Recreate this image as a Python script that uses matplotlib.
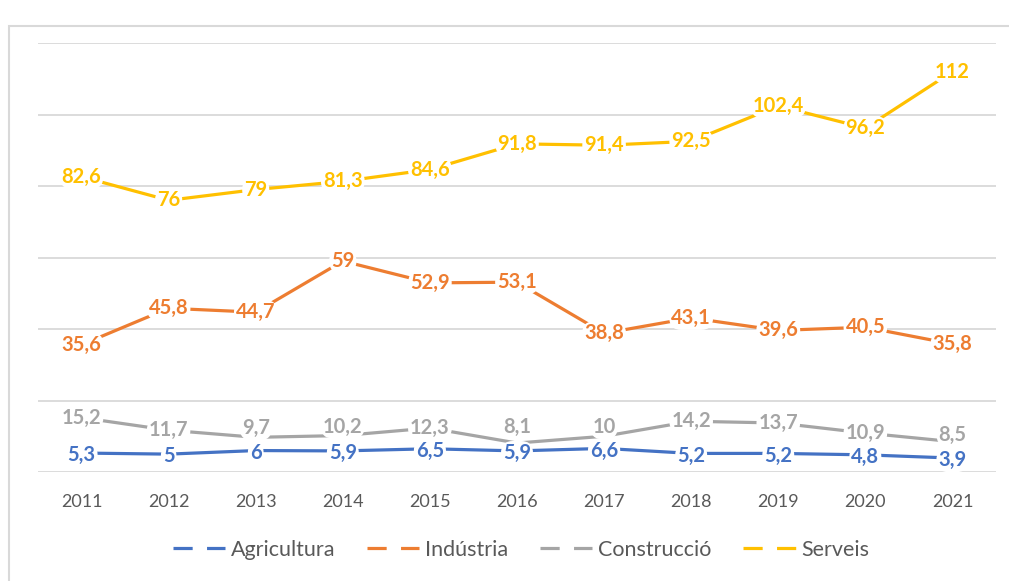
import matplotlib
matplotlib.use("Agg")
import matplotlib.pyplot as plt
from matplotlib.lines import Line2D
from matplotlib.patches import Rectangle

plt.rcParams['font.family'] = ['Lato', 'DejaVu Sans']

years = ['2011', '2012', '2013', '2014', '2015', '2016', '2017', '2018', '2019', '2020', '2021']
agricultura = [5.3, 5, 6, 5.9, 6.5, 5.9, 6.6, 5.2, 5.2, 4.8, 3.9]
industria = [35.6, 45.8, 44.7, 59, 52.9, 53.1, 38.8, 43.1, 39.6, 40.5, 35.8]
construccio = [15.2, 11.7, 9.7, 10.2, 12.3, 8.1, 10, 14.2, 13.7, 10.9, 8.5]
serveis = [82.6, 76, 79, 81.3, 84.6, 91.8, 91.4, 92.5, 102.4, 96.2, 112]

series_names = ['Agricultura', 'Indústria', 'Construcció', 'Serveis']
series_colors = ['#4472C4', '#ED7D31', '#A5A5A5', '#FFC000']
series_vals = [agricultura, industria, construccio, serveis]

# label nudges in points (construccio labels were dragged up in the original)
nudge_constr = [0, 0, 6.5, 6.5, 0, 11.5, 6.5, 0, 0, 0, 5]
nudges = [[-1.5] * 11, [0] * 11, nudge_constr, [0] * 11]


def fmt(v):
    # catalan style decimal comma
    if v == int(v):
        return str(int(v))
    return str(v).replace('.', ',')


fig = plt.figure(figsize=(10.09, 5.81), dpi=100)
W, H = 1009, 581

# outer chart frame (only top and left edges visible)
fig.patches.append(Rectangle((9 / W, -0.1), 1.2, 1.1 - 26 / H, transform=fig.transFigure,
                             fill=False, edgecolor='#D9D9D9', linewidth=1.5, zorder=0))

ax = fig.add_axes([38 / W, (H - 472) / H, 958 / W, (472 - 43) / H])
x = list(range(len(years)))

for name, col, vals in zip(series_names, series_colors, series_vals):
    ax.plot(x, vals, color=col, linewidth=2.3, solid_capstyle='butt', zorder=3)

# labels: draw agricultura last so it sits on top of construccio
for k in [3, 1, 2, 0]:
    col, vals = series_colors[k], series_vals[k]
    for xi, v, dy in zip(x, vals, nudges[k]):
        ax.annotate(fmt(v), (xi, v), xytext=(0, dy), textcoords='offset points',
                    color=col, fontsize=14.5, fontweight='bold',
                    ha='center', va='center', zorder=5 + (3 - k),
                    bbox=dict(boxstyle='round,pad=0.1,rounding_size=0.6', fc='white', ec='none'))

ax.set_xlim(-0.5, len(years) - 0.5)
ax.set_ylim(0, 120)
ax.set_yticks(range(0, 121, 20))
ax.yaxis.grid(True, color='#D9D9D9', linewidth=1.3, zorder=0)
ax.set_axisbelow(True)
ax.tick_params(axis='y', left=False, labelleft=False)
ax.set_xticks(x)
ax.set_xticklabels(years)
ax.tick_params(axis='x', bottom=False, pad=12, labelsize=13, labelcolor='#595959')
for s in ax.spines.values():
    s.set_visible(False)

handles = [Line2D([0], [0], color=c, linewidth=2.3, linestyle=(0, (6, 4.5)))
           for c in series_colors]
fig.legend(handles, series_names, loc='center', bbox_to_anchor=(521 / W, (H - 550) / H),
           ncol=4, frameon=False, fontsize=15.5, labelcolor='#595959',
           handlelength=2.42, handletextpad=0.25, columnspacing=1.5)

fig.savefig('out.png', dpi=100)
